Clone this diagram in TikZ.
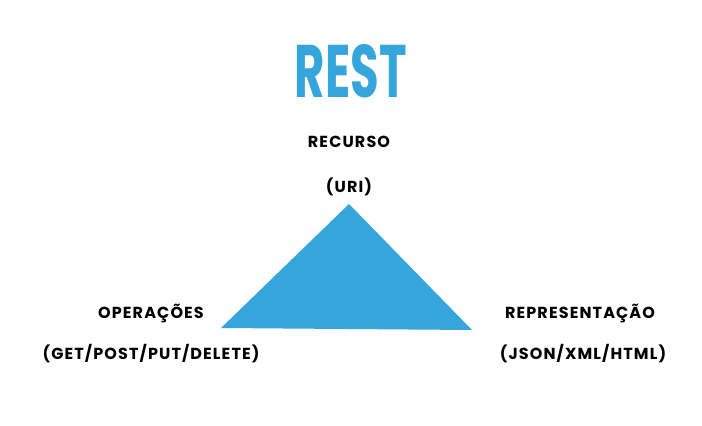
\documentclass[tikz,border=0pt]{standalone}
\usepackage{fontspec}
\setmainfont{Poppins}
\newfontfamily\lblfont[LetterSpace=7]{Poppins}
\definecolor{restblue}{HTML}{35A5DB}
\tikzset{
  lbl/.style={font=\lblfont\fontsize{16}{18}\selectfont\bfseries, text=black, inner sep=0pt, anchor=base},
}
\begin{document}
\begin{tikzpicture}[x=1pt,y=-1pt]
\useasboundingbox (0,0) rectangle (702,426);
\node[inner sep=0pt, anchor=south, text=restblue] (title) at (351,98) {\resizebox{112pt}{53pt}{\bfseries REST}};
\coordinate (apex) at (349,204);
\coordinate (bl) at (221,328);
\coordinate (br) at (472,330);
\fill[restblue] (apex) -- (bl) -- (br) -- cycle;
\node[lbl] (recurso) at (349,147) {RECURSO};
\node[lbl] (uri) at (349,192) {(URI)};
\node[lbl] (oper) at (151,318) {OPERAÇÕES};
\node[lbl] (get) at (151,359) {(GET/POST/PUT/DELETE)};
\node[lbl] (repr) at (580,318) {REPRESENTAÇÃO};
\node[lbl] (json) at (583,359) {(JSON/XML/HTML)};
\end{tikzpicture}
\end{document}
